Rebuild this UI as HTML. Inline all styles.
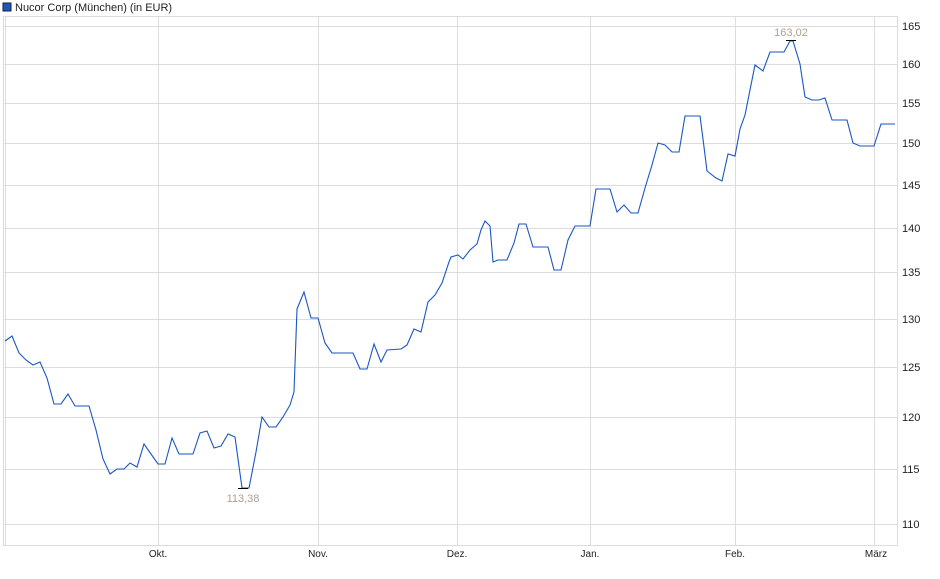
<!DOCTYPE html>
<html><head><meta charset="utf-8"><style>
body{margin:0;background:#fff;}
svg{display:block;font-family:"Liberation Sans",sans-serif;}
</style></head><body>
<svg width="940" height="579" viewBox="0 0 940 579">
<rect x="3" y="3" width="8" height="8" fill="#1a56c4" stroke="#222" stroke-width="1"/>
<text x="15" y="11" font-size="11" fill="#222">Nucor Corp (München) (in EUR)</text>
<g stroke="#dcdcdc" stroke-width="1" fill="none">
<line x1="3" y1="16.5" x2="898" y2="16.5"/>
<line x1="3" y1="545.5" x2="898" y2="545.5"/>
<line x1="3.5" y1="16" x2="3.5" y2="546"/>
<line x1="5.5" y1="16" x2="5.5" y2="546"/>
<line x1="897.5" y1="16" x2="897.5" y2="546"/>
<line x1="158.5" y1="16" x2="158.5" y2="546"/>
<line x1="318.5" y1="16" x2="318.5" y2="546"/>
<line x1="457.5" y1="16" x2="457.5" y2="546"/>
<line x1="590.5" y1="16" x2="590.5" y2="546"/>
<line x1="735.5" y1="16" x2="735.5" y2="546"/>
<line x1="874.5" y1="16" x2="874.5" y2="546"/>
<line x1="3" y1="26.5" x2="898" y2="26.5"/>
<line x1="3" y1="64.5" x2="898" y2="64.5"/>
<line x1="3" y1="103.5" x2="898" y2="103.5"/>
<line x1="3" y1="143.5" x2="898" y2="143.5"/>
<line x1="3" y1="185.5" x2="898" y2="185.5"/>
<line x1="3" y1="228.5" x2="898" y2="228.5"/>
<line x1="3" y1="272.5" x2="898" y2="272.5"/>
<line x1="3" y1="319.5" x2="898" y2="319.5"/>
<line x1="3" y1="367.5" x2="898" y2="367.5"/>
<line x1="3" y1="417.5" x2="898" y2="417.5"/>
<line x1="3" y1="469.5" x2="898" y2="469.5"/>
<line x1="3" y1="524.5" x2="898" y2="524.5"/>
</g>
<g font-size="11" fill="#222">
<text x="902" y="30">165</text><text x="902" y="68">160</text><text x="902" y="107">155</text>
<text x="902" y="147">150</text><text x="902" y="189">145</text><text x="902" y="232">140</text>
<text x="902" y="276">135</text><text x="902" y="323">130</text><text x="902" y="371">125</text>
<text x="902" y="421">120</text><text x="902" y="473">115</text><text x="902" y="528">110</text>
</g>
<g font-size="10" fill="#222" text-anchor="middle">
<text x="158" y="557">Okt.</text><text x="318" y="557">Nov.</text><text x="457" y="557">Dez.</text>
<text x="590" y="557">Jan.</text><text x="735" y="557">Feb.</text><text x="876" y="557">März</text>
</g>
<polyline fill="none" stroke="#1a56c4" stroke-width="1.1" points="5,341 12,336 19,353 26,360 33,365 40,362 47,378 54,404 61,404 68,394 75,406 89,406 96,430 103,459 110,474 117,469 124,469 130,463 137,467 144,444 151,454 158,464 165,464 172,438 179,454 193,454 200,433 207,431 214,448 221,446 228,434 235,437 242,488 249,488 256,452 262,417 269,427 276,427 283,417 290,405 294,392 297,309 304,292 311,318 318,318 325,343 332,353 353,353 360,369 367,369 374,344 381,362 387,350 401,349 407,345 414,329 421,332 428,302 435,295 442,283 449,262 451,257 458,255 463,259 470,250 477,244 481,230 485,221 490,226 493,262 498,260 507,260 514,243 519,224 526,224 533,247 548,247 554,270 561,270 568,240 575,226 590,226 596,189 610,189 617,212 624,205 631,213 638,213 645,188 652,165 658,143 665,145 672,152 679,152 685,116 700,116 703,139 707,171 716,178 722,181 728,154 735,156 740,129 745,115 755,65 763,71 770,52 784,52 790,41 793,41 800,64 805,97 812,100 819,100 825,98 832,120 847,120 853,143 860,146 874,146 881,124 895,124"/>
<line x1="786" y1="40.5" x2="796" y2="40.5" stroke="#000" stroke-width="1"/>
<line x1="238" y1="488.5" x2="248" y2="488.5" stroke="#000" stroke-width="1"/>
<text x="791" y="36" font-size="11" fill="#b0a090" text-anchor="middle">163,02</text>
<text x="243" y="502" font-size="11" fill="#b0a090" text-anchor="middle">113,38</text>
</svg>
</body></html>
